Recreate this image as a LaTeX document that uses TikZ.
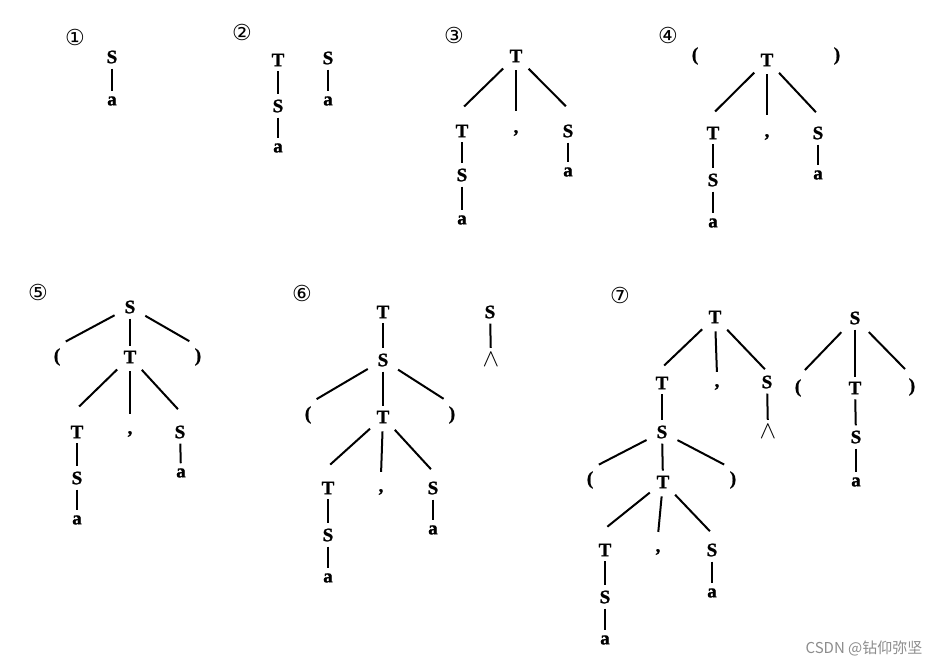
\documentclass[tikz,border=0pt]{standalone}
\usepackage{fontspec}
\setmainfont{Liberation Serif}
\newfontfamily\treefont{Liberation Serif}[BoldFeatures={FakeBold=1.2}]
\newfontfamily\circfont{DejaVu Sans}
\newfontfamily\cjkfont{Noto Sans CJK SC}
\tikzset{
  sym/.style={inner sep=2pt, font=\treefont\bfseries\fontsize{19}{23}\selectfont},
  wedgesym/.style={inner sep=2pt, font=\fontsize{25}{28}\selectfont},
  num/.style={inner sep=0pt, font=\circfont\fontsize{22}{26}\selectfont},
  vstem/.style={line width=2pt, shorten <=3pt, shorten >=3pt},
  gfork/.style={line width=2pt, shorten <=6pt, shorten >=3pt},
  pfork/.style={line width=2pt, shorten <=9pt, shorten >=10pt},
  wmark/.style={font=\cjkfont\fontsize{15}{18}\selectfont, text=black!45},
}
\begin{document}
\begin{tikzpicture}[x=1pt, y=-1pt]
  \useasboundingbox (0,0) rectangle (947,666);
  % 1
  \begin{scope}[shift={(112,57)}]
    \node[num] (n1) at (-37,-20) {①};
    \node[sym] (s1) at (0,0) {S};
    \node[sym] (a1) at (0,44) {a};
    \draw[vstem] (s1) -- (a1);
  \end{scope}
  % 2
  \begin{scope}[shift={(278,60)}]
    \node[num] (n2) at (-36,-28) {②};
    \node[sym] (t2) at (0,0) {T};
    \node[sym] (s2) at (0,46) {S};
    \node[sym] (a2) at (0,88) {a};
    \node[sym] (s2b) at (50,-2) {S};
    \node[sym] (a2b) at (50,41) {a};
    \draw[vstem] (t2) -- (s2);
    \draw[vstem] (s2) -- (a2);
    \draw[vstem] (s2b) -- (a2b);
  \end{scope}
  % 3
  \begin{scope}[shift={(516,56)}]
    \node[num] (n3) at (-62,-21) {③};
    \node[sym] (r3) at (0,0) {T};
    \node[sym] (l3) at (-54,75) {T};
    \node[sym] (c3) at (0,77) {,};
    \node[sym] (s3) at (52,75) {S};
    \node[sym] (ls3) at (-54,119) {S};
    \node[sym] (la3) at (-54,164) {a};
    \node[sym] (sa3) at (52,116) {a};
    \draw[gfork] (r3) -- ([yshift=14pt]l3.north);
    \draw[gfork] (r3) -- ([yshift=14pt]c3.north);
    \draw[gfork] (r3) -- ([yshift=14pt]s3.north);
    \draw[vstem] (l3) -- (ls3);
    \draw[vstem] (ls3) -- (la3);
    \draw[vstem] (s3) -- (sa3);
  \end{scope}
  % 4
  \begin{scope}[shift={(767,60)}]
    \node[num] (n4) at (-99,-25) {④};
    \node[sym] (lp4) at (-72,-4) {(};
    \node[sym] (r4) at (0,0) {T};
    \node[sym] (rp4) at (70,-4) {)};
    \node[sym] (l4) at (-54,73) {T};
    \node[sym] (c4) at (0,77) {,};
    \node[sym] (s4) at (51,73) {S};
    \node[sym] (ls4) at (-54,120) {S};
    \node[sym] (la4) at (-54,163) {a};
    \node[sym] (sa4) at (51,115) {a};
    \draw[gfork] (r4) -- ([yshift=11pt]l4.north);
    \draw[gfork] (r4) -- ([yshift=14pt]c4.north);
    \draw[gfork] (r4) -- ([yshift=10pt]s4.north);
    \draw[vstem] (l4) -- (ls4);
    \draw[vstem] (ls4) -- (la4);
    \draw[vstem] (s4) -- (sa4);
  \end{scope}
  % 5
  \begin{scope}[shift={(130,307)}]
    \node[num] (n5) at (-92,-15) {⑤};
    \node[sym] (r5) at (0,0) {S};
    \node[sym] (lp5) at (-73,50) {(};
    \node[sym] (t5) at (0,50) {T};
    \node[sym] (rp5) at (68,50) {)};
    \node[sym] (l5) at (-53,125) {T};
    \node[sym] (c5) at (0,127) {,};
    \node[sym] (s5) at (50,125) {S};
    \node[sym] (ls5) at (-53,171) {S};
    \node[sym] (la5) at (-53,213) {a};
    \node[sym] (sa5) at (51,166) {a};
    \draw[pfork] (r5) -- (lp5.north);
    \draw[vstem] (r5) -- (t5);
    \draw[pfork] (r5) -- (rp5.north);
    \draw[gfork] (t5) -- ([yshift=15pt]l5.north);
    \draw[gfork] (t5) -- ([yshift=12pt]c5.north);
    \draw[gfork] (t5) -- ([yshift=12pt]s5.north);
    \draw[vstem] (l5) -- (ls5);
    \draw[vstem] (ls5) -- (la5);
    \draw[vstem] (s5) -- (sa5);
  \end{scope}
  % 6
  \begin{scope}[shift={(383,312)}]
    \node[num] (n6) at (-81,-19) {⑥};
    \node[sym] (r6) at (0,0) {T};
    \node[sym] (s6) at (0,48) {S};
    \node[sym] (lp6) at (-75,103) {(};
    \node[sym] (t6) at (0,105) {T};
    \node[sym] (rp6) at (69,103) {)};
    \node[sym] (l6) at (-55,176) {T};
    \node[sym] (c6) at (-2,180) {,};
    \node[sym] (s6b) at (50,176) {S};
    \node[sym] (ls6) at (-55,223) {S};
    \node[sym] (la6) at (-55,266) {a};
    \node[sym] (sa6) at (50,218) {a};
    \node[sym] (x6) at (107,0) {S};
    \node[wedgesym] (w6) at (108,48) {$\wedge$};
    \draw[vstem] (r6) -- (s6);
    \draw[pfork] (s6) -- (lp6.north);
    \draw[vstem] (s6) -- (t6);
    \draw[pfork] (s6) -- (rp6.north);
    \draw[gfork] (t6) -- ([yshift=13pt]l6.north);
    \draw[gfork] (t6) -- ([yshift=12pt]c6.north);
    \draw[gfork] (t6) -- ([yshift=8pt]s6b.north);
    \draw[vstem] (l6) -- (ls6);
    \draw[vstem] (ls6) -- (la6);
    \draw[vstem] (s6b) -- (sa6);
    \draw[vstem] (x6) -- (w6);
  \end{scope}
  % 7
  \begin{scope}[shift={(715,317)}]
    \node[num] (n7) at (-95,-22) {⑦};
    \node[sym] (r7) at (0,0) {T};
    \node[sym] (l7) at (-53,66) {T};
    \node[sym] (c7) at (2,70) {,};
    \node[sym] (s7) at (52,65) {S};
    \node[wedgesym] (w7) at (53,115) {$\wedge$};
    \node[sym] (ls7) at (-53,115) {S};
    \node[sym] (lp7) at (-125,163) {(};
    \node[sym] (t7) at (-52,165) {T};
    \node[sym] (rp7) at (18,163) {)};
    \node[sym] (ll7) at (-110,233) {T};
    \node[sym] (lc7) at (-57,235) {,};
    \node[sym] (lr7) at (-3,233) {S};
    \node[sym] (lls7) at (-110,280) {S};
    \node[sym] (lla7) at (-110,323) {a};
    \node[sym] (lra7) at (-3,276) {a};
    \draw[gfork] (r7) -- ([yshift=7pt]l7.north);
    \draw[gfork] (r7) -- ([yshift=7pt]c7.north);
    \draw[gfork] (r7) -- ([yshift=2pt]s7.north);
    \draw[vstem] (s7) -- (w7);
    \draw[vstem] (l7) -- (ls7);
    \draw[pfork] (ls7) -- (lp7.north);
    \draw[vstem] (ls7) -- (t7);
    \draw[pfork] (ls7) -- (rp7.north);
    \draw[gfork] (t7) -- ([yshift=13pt]ll7.north);
    \draw[gfork] (t7) -- ([yshift=12pt]lc7.north);
    \draw[gfork] (t7) -- ([yshift=8pt]lr7.north);
    \draw[vstem] (ll7) -- (lls7);
    \draw[vstem] (lls7) -- (lla7);
    \draw[vstem] (lr7) -- (lra7);
  \end{scope}
  \begin{scope}[shift={(855,318)}]
    \node[sym] (r7b) at (0,0) {S};
    \node[sym] (lp7b) at (-57,70) {(};
    \node[sym] (t7b) at (0,70) {T};
    \node[sym] (rp7b) at (57,69) {)};
    \node[sym] (s7b) at (1,119) {S};
    \node[sym] (a7b) at (1,164) {a};
    \draw[pfork] (r7b) -- (lp7b.north);
    \draw[vstem] (r7b) -- (t7b);
    \draw[pfork] (r7b) -- (rp7b.north);
    \draw[vstem] (t7b) -- (s7b);
    \draw[vstem] (s7b) -- (a7b);
  \end{scope}
  \node[wmark] (wm) at (864,648) {CSDN @钻仰弥坚};
\end{tikzpicture}
\end{document}
